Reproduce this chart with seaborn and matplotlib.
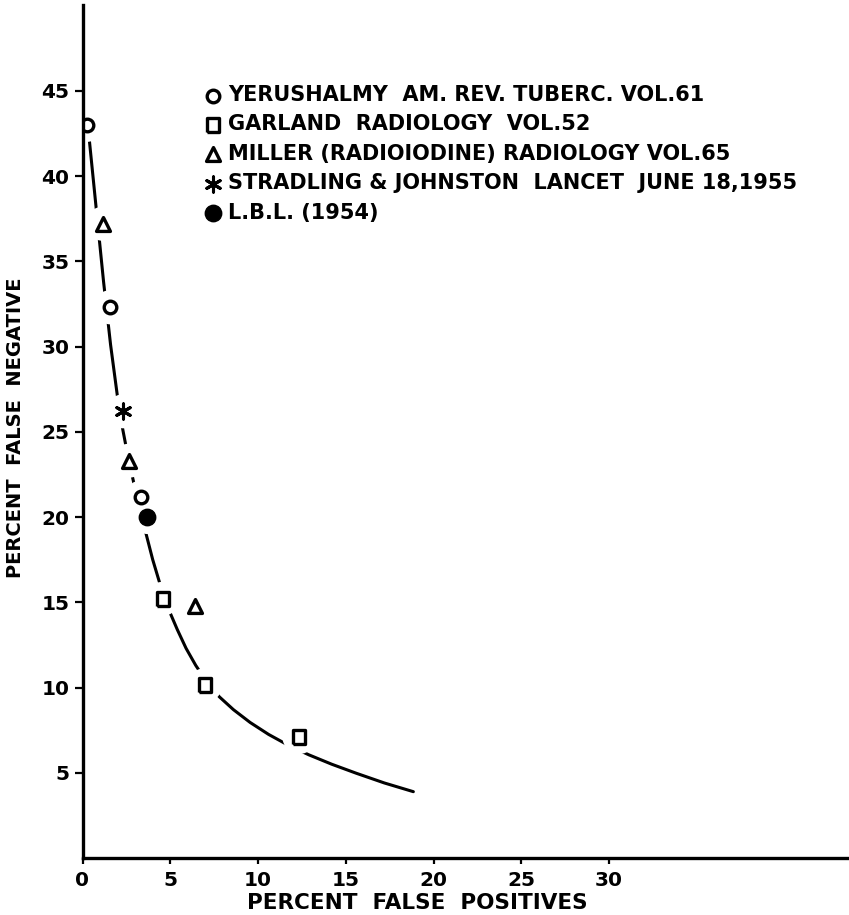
import numpy as np
import pandas as pd
import seaborn as sns
import matplotlib.pyplot as plt

# points (percent false positives, percent false negative)
yerushalmy_x = [0.25, 1.57, 3.36]
yerushalmy_y = [43.0, 32.3, 21.15]
garland_x = [4.56, 7.0, 12.36]
garland_y = [15.2, 10.15, 7.1]
miller_x = [1.15, 2.64, 6.4]
miller_y = [37.2, 23.3, 14.8]
stradling_x = [2.32]
stradling_y = [26.2]
lbl_x = [3.7]
lbl_y = [20.0]

# hand drawn curve through the points
curve_x = [0.39, 0.80, 1.20, 1.60, 2.00, 2.30, 2.60, 2.90, 3.25, 3.60, 4.00,
           4.45, 4.90, 5.40, 5.90, 6.45, 7.10, 7.80, 8.60, 9.55, 10.60, 11.75,
           12.90, 14.20, 15.60, 17.20, 18.85]
curve_y = [42.1, 37.9, 33.8, 30.1, 27.0, 25.1, 23.5, 22.1, 20.6, 19.1, 17.5,
           15.95, 14.6, 13.4, 12.3, 11.3, 10.3, 9.45, 8.7, 7.95, 7.25, 6.6,
           6.05, 5.5, 4.97, 4.4, 3.89]

labels = ['YERUSHALMY  AM. REV. TUBERC. VOL.61',
          'GARLAND  RADIOLOGY  VOL.52',
          'MILLER (RADIOIODINE) RADIOLOGY VOL.65',
          'STRADLING & JOHNSTON  LANCET  JUNE 18,1955',
          'L.B.L. (1954)']
x_ticks = [0, 5, 10, 15, 20, 25, 30]
y_ticks = [5, 10, 15, 20, 25, 30, 35, 40, 45]

sns.set_style('ticks', {'axes.edgecolor': 'black', 'text.color': 'black',
                        'xtick.color': 'black', 'ytick.color': 'black',
                        'axes.labelcolor': 'black'})
plt.rcParams['font.family'] = ['DejaVu Sans']
plt.rcParams['font.weight'] = 'bold'

fig = plt.figure(figsize=(8.49, 9.15), dpi=100)
ax = fig.add_axes([82.5 / 849, 57 / 915, 766.5 / 849, 853 / 915])

curve = pd.DataFrame({'fp': curve_x, 'fn': curve_y})
sns.lineplot(data=curve, x='fp', y='fn', sort=False, estimator=None,
             color='black', linewidth=2.2, ax=ax, zorder=2)

# white halo so the curve breaks around each marker
all_x = yerushalmy_x + garland_x + miller_x + stradling_x + lbl_x
all_y = yerushalmy_y + garland_y + miller_y + stradling_y + lbl_y
sns.scatterplot(x=all_x, y=all_y, s=600, color='white', edgecolor='none',
                marker='o', ax=ax, zorder=3, label='_halo')

rect = [(-0.8, -1), (0.8, -1), (0.8, 1), (-0.8, 1), (-0.8, -1)]
sns.scatterplot(x=yerushalmy_x, y=yerushalmy_y, marker='o', s=82,
                facecolor='white', edgecolor='black', linewidth=2.4,
                ax=ax, zorder=4, label=labels[0])
sns.scatterplot(x=garland_x, y=garland_y, marker=rect, s=115,
                facecolor='white', edgecolor='black', linewidth=2.4,
                ax=ax, zorder=4, label=labels[1])
sns.scatterplot(x=miller_x, y=miller_y, marker='^', s=100,
                facecolor='white', edgecolor='black', linewidth=2.4,
                ax=ax, zorder=4, label=labels[2])
sns.scatterplot(x=stradling_x, y=stradling_y, marker=(6, 2, 0), s=120,
                color='black', linewidth=2.2, ax=ax, zorder=4, label=labels[3])
sns.scatterplot(x=lbl_x, y=lbl_y, marker='o', s=140, color='black',
                edgecolor='black', linewidth=1, ax=ax, zorder=4, label=labels[4])

ax.set_xlim(0, 43.67)
ax.set_ylim(0, 50.03)
ax.set_xticks(x_ticks)
ax.set_yticks(y_ticks)
ax.set_xticklabels([str(t) for t in x_ticks], fontsize=14.5, fontweight='bold')
ax.set_yticklabels([str(t) for t in y_ticks], fontsize=14.5, fontweight='bold')
ax.tick_params(axis='y', direction='out', length=6, width=1.6, pad=3.5)
ax.tick_params(axis='x', direction='out', length=4.5, width=1.6, pad=5)

sns.despine(ax=ax)
for side in ['left', 'bottom']:
    ax.spines[side].set_linewidth(2.4)
    ax.spines[side].set_zorder(5)

ax.set_xlabel('PERCENT  FALSE  POSITIVES', fontsize=15.5, fontweight='bold')
ax.xaxis.set_label_coords(0.4364, -0.041)
ax.set_ylabel('PERCENT  FALSE  NEGATIVE', fontsize=14, fontweight='bold')
ax.yaxis.set_label_coords(-0.075, 0.504)

leg = ax.legend(loc='upper left', bbox_to_anchor=(202.5 / 849, 1 - 85 / 915),
                bbox_transform=fig.transFigure, frameon=False, borderpad=0,
                borderaxespad=0, handlelength=1.0, handletextpad=0.22,
                labelspacing=0.45, scatterpoints=1,
                prop={'size': 15, 'weight': 'bold'})

fig.savefig('out.png', dpi=100, facecolor='white')
